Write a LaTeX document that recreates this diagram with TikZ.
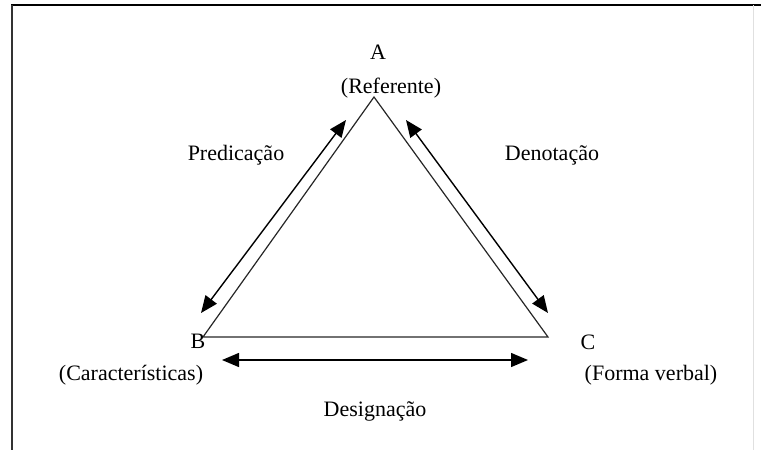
\documentclass[tikz,border=0pt]{standalone}
\usepackage{fontspec}
\setmainfont{Liberation Serif}
\usetikzlibrary{arrows.meta}
\begin{document}
\begin{tikzpicture}[x=1pt,y=-1pt,
  lbl/.style={font=\fontsize{22}{25}\selectfont, inner sep=0pt, anchor=center},
  tri/.style={line width=1.2pt, draw=black!85},
  dbl/.style={line width=1.4pt, {Triangle[length=17pt,width=14pt]}-{Triangle[length=17pt,width=14pt]}}]
\useasboundingbox (0,0) rectangle (761,450);
% frame
\draw[line width=2pt] (11,5) -- (761,5);
\draw[line width=1.5pt, draw=black!80] (12,5) -- (12,450);
\draw[line width=0.8pt, draw=black!12] (753,5) -- (753,450);
% vertices
\coordinate (A) at (374,97);
\coordinate (B) at (203,337);
\coordinate (C) at (548,337);
\draw[tri] (B) -- (A) -- (C) -- cycle;
% arrows
\coordinate (p1) at (346,120);
\coordinate (p2) at (201,313);
\coordinate (d1) at (406,120);
\coordinate (d2) at (548,313);
\coordinate (g1) at (222,360);
\coordinate (g2) at (528,360);
\draw[dbl] (p1) -- (p2);
\draw[dbl] (d1) -- (d2);
\draw[dbl] (g1) -- (g2);
% labels
\node[lbl] (tA) at (378,52) {A};
\node[lbl] (tRef) at (391,88) {(Referente)};
\node[lbl] (tPred) at (236,155) {Predicação};
\node[lbl] (tDen) at (552,155) {Denotação};
\node[lbl] (tB) at (198,341) {B};
\node[lbl] (tCar) at (131,375) {(Características)};
\node[lbl] (tC) at (588,342) {C};
\node[lbl] (tFor) at (651,375) {(Forma verbal)};
\node[lbl] (tDes) at (375,411) {Designação};
\end{tikzpicture}
\end{document}
